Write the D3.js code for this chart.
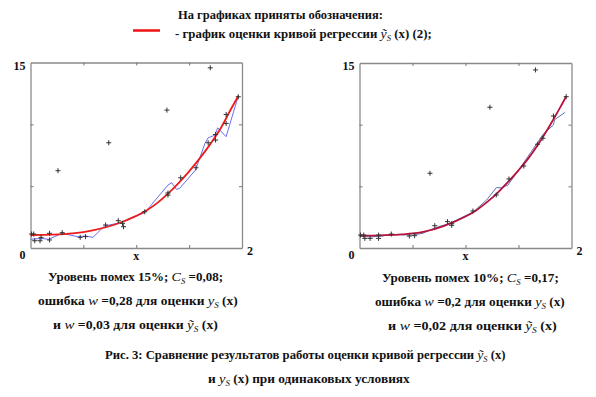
<!DOCTYPE html>
<html>
<head>
<meta charset="utf-8">
<script src="https://cdn.jsdelivr.net/npm/d3@7"></script>
<style>
  body { margin: 0; background: #fff; }
  svg text { font-family: "Liberation Serif", "Times New Roman", serif; fill: #111; }
</style>
</head>
<body>
<div id="chart"></div>
<script>
// ticks
var xTicks = [0.5, 1, 1.5];
var yTicks = [5, 10];

// left panel: noise 15%
var leftPtsX = [0.01, 0.03, 0.04, 0.09, 0.10, 0.18, 0.18, 0.26, 0.30, 0.47, 0.52, 0.71, 0.74, 0.83, 0.87, 0.88, 1.08, 1.29, 1.30, 1.30, 1.42, 1.565, 1.68, 1.70, 1.75, 1.75, 1.85, 1.85, 1.965];
var leftPtsY = [1.13, 1.13, 0.59, 0.59, 0.86, 1.19, 0.65, 6.25, 1.24, 0.86, 0.92, 1.86, 8.51, 2.21, 1.99, 1.72, 2.93, 11.15, 4.28, 4.45, 5.68, 6.49, 8.51, 14.57, 9.18, 8.73, 10.8, 10.07, 12.23];
var leftBlueX = [0, 0.10, 0.17, 0.30, 0.45, 0.52, 0.59, 0.70, 0.85, 1.08, 1.30, 1.335, 1.38, 1.41, 1.56, 1.65, 1.68, 1.745, 1.77, 1.85, 1.965];
var leftBlueY = [0.70, 0.78, 0.70, 1.19, 0.91, 0.97, 0.86, 1.78, 2.05, 2.85, 5.09, 5.28, 4.74, 4.82, 6.3, 8.46, 8.91, 9.13, 9.72, 9.0, 12.3];
var leftRedX = [0, 0.2, 0.4, 0.6, 0.8, 1.0, 1.1, 1.2, 1.3, 1.4, 1.5, 1.6, 1.7, 1.8, 1.9, 1.965];
var leftRedY = [1.05, 1.08, 1.18, 1.45, 1.9, 2.6, 3.05, 3.65, 4.4, 5.25, 6.2, 7.25, 8.4, 9.7, 11.3, 12.3];

// right panel: noise 10%
var rightPtsX = [0.01, 0.04, 0.05, 0.10, 0.18, 0.18, 0.30, 0.47, 0.52, 0.665, 0.71, 0.83, 0.87, 0.87, 1.07, 1.23, 1.29, 1.41, 1.55, 1.66, 1.68, 1.73, 1.83, 1.95];
var rightPtsY = [1.05, 1.05, 0.78, 0.78, 1.05, 0.78, 1.13, 0.97, 1.0, 6.06, 1.81, 2.14, 1.97, 1.84, 3.0, 11.41, 4.3, 5.6, 6.65, 14.44, 8.41, 8.9, 10.7, 12.27];
var rightBlueX = [0, 0.1, 0.2, 0.3, 0.5, 0.6, 0.7, 0.85, 1.07, 1.2, 1.29, 1.34, 1.40, 1.5, 1.62, 1.73, 1.83, 1.84, 1.94];
var rightBlueY = [0.95, 0.9, 0.95, 1.1, 1.05, 1.2, 1.6, 2.0, 2.9, 3.9, 4.89, 4.89, 5.1, 6.3, 7.8, 9.2, 9.98, 10.4, 11.0];
var rightRedX = [0, 0.2, 0.4, 0.6, 0.8, 1.0, 1.1, 1.2, 1.3, 1.4, 1.5, 1.6, 1.7, 1.8, 1.9, 1.95];
var rightRedY = [1.0, 1.03, 1.1, 1.3, 1.8, 2.55, 3.05, 3.7, 4.45, 5.35, 6.3, 7.35, 8.6, 10.0, 11.5, 12.3];

var svg = d3.select("#chart").append("svg")
    .attr("width", 596)
    .attr("height", 397);

function zip(xs, ys) {
    return xs.map(function (v, i) { return [v, ys[i]]; });
}

function panel(opt) {
    var x = d3.scaleLinear().domain([0, 2]).range([opt.left, opt.right]);
    var y = d3.scaleLinear().domain([0, 15]).range([opt.bottom, opt.top]);
    var g = svg.append("g");

    // frame + inward ticks
    var axes = [
        [d3.axisBottom(x), "translate(0," + opt.bottom + ")", xTicks],
        [d3.axisTop(x), "translate(0," + opt.top + ")", xTicks],
        [d3.axisLeft(y), "translate(" + opt.left + ",0)", yTicks],
        [d3.axisRight(y), "translate(" + opt.right + ",0)", yTicks]
    ];
    axes.forEach(function (a) {
        var ax = g.append("g").attr("transform", a[1])
            .call(a[0].tickValues(a[2]).tickSizeInner(-3).tickSizeOuter(0).tickFormat(""));
        ax.select(".domain").attr("stroke", "#8a8a8a").attr("stroke-width", 1.3);
        ax.selectAll(".tick line").attr("stroke", "#777");
    });

    var line = d3.line().x(function (d) { return x(d[0]); }).y(function (d) { return y(d[1]); });

    g.append("path")
        .attr("d", line(zip(opt.blueX, opt.blueY)))
        .attr("fill", "none")
        .attr("stroke", opt.blue)
        .attr("stroke-width", 1);

    g.append("path")
        .attr("d", line.curve(d3.curveMonotoneX)(zip(opt.redX, opt.redY)))
        .attr("fill", "none")
        .attr("stroke", opt.red)
        .attr("stroke-width", 1.8);

    // crosses
    g.selectAll(".pt").data(zip(opt.ptsX, opt.ptsY)).enter().append("path")
        .attr("class", "pt")
        .attr("d", function (d) {
            var cx = x(d[0]), cy = y(d[1]);
            return "M" + (cx - 2.5) + "," + cy + "H" + (cx + 2.5) + "M" + cx + "," + (cy - 2.5) + "V" + (cy + 2.5);
        })
        .attr("stroke", "#333")
        .attr("stroke-width", 1);

    // labels
    g.append("text").attr("x", x(0) - 5).attr("y", y(15) + 7).attr("text-anchor", "end")
        .style("font-weight", "bold").style("font-size", "12px").text("15");
    g.append("text").attr("x", x(0) - 8).attr("y", opt.bottom + 11).attr("text-anchor", "middle")
        .style("font-weight", "bold").style("font-size", "12px").text("0");
    g.append("text").attr("x", x(2) + 8).attr("y", opt.bottom + 7).attr("text-anchor", "middle")
        .style("font-weight", "bold").style("font-size", "12px").text("2");
    g.append("text").attr("x", x(1)).attr("y", opt.bottom + 12).attr("text-anchor", "middle")
        .style("font-weight", "bold").style("font-size", "12px").text("x");
}

panel({ left: 30.5, right: 242, top: 62.5, bottom: 248,
        ptsX: leftPtsX, ptsY: leftPtsY, blueX: leftBlueX, blueY: leftBlueY, redX: leftRedX, redY: leftRedY,
        blue: "#6a6ef0", red: "#ec1c1c" });
panel({ left: 359.5, right: 571.5, top: 63, bottom: 248,
        ptsX: rightPtsX, ptsY: rightPtsY, blueX: rightBlueX, blueY: rightBlueY, redX: rightRedX, redY: rightRedY,
        blue: "#5a74b4", red: "#b8123c" });

// text lines made of runs: [text, kind]  b = bold, i = italic, s = italic subscript
function richText(parts, x0, x1, baseline, size) {
    var t = svg.append("text").attr("y", baseline).style("font-size", size + "px");
    parts.forEach(function (p) {
        var ts = t.append("tspan").text(p[0]);
        if (p[1] === "b") ts.style("font-weight", "bold");
        if (p[1] === "i") ts.style("font-style", "italic").style("font-size", (size + 1) + "px");
        if (p[1] === "s") ts.style("font-style", "italic").style("font-size", (size - 4) + "px").attr("dy", 3);
        if (p[1] === "u") ts.style("font-weight", "bold").attr("dy", -3);
    });
    var w = t.node().getComputedTextLength();
    var s = (x1 - x0) / w;
    t.attr("transform", "translate(" + x0 + ",0) scale(" + s + ",1)");
}

var legendTitle = [["На графиках приняты обозначения:", "b"]];
var legendItem = [["- график оценки кривой регрессии ", "b"], ["ỹ", "i"], ["S", "s"], [" (x)  (2);", "u"]];
var leftLines = [
    [["Уровень помех 15%;  ", "b"], ["C", "i"], ["S", "s"], [" =0,08;", "u"]],
    [["ошибка  ", "b"], ["w", "i"], [" =0,28  для оценки  ", "b"], ["y", "i"], ["S", "s"], [" (x)", "u"]],
    [["и  ", "b"], ["w", "i"], [" =0,03  для оценки  ", "b"], ["ỹ", "i"], ["S", "s"], [" (x)", "u"]]
];
var rightLines = [
    [["Уровень помех 10%;  ", "b"], ["C", "i"], ["S", "s"], [" =0,17;", "u"]],
    [["ошибка  ", "b"], ["w", "i"], [" =0,2  для оценки  ", "b"], ["y", "i"], ["S", "s"], [" (x)", "u"]],
    [["и  ", "b"], ["w", "i"], [" =0,02  для оценки  ", "b"], ["ỹ", "i"], ["S", "s"], [" (x)", "u"]]
];
var caption = [
    [["Рис. 3: Сравнение результатов работы оценки кривой регрессии ", "b"], ["ỹ", "i"], ["S", "s"], [" (x)", "u"]],
    [["и  ", "b"], ["y", "i"], ["S", "s"], [" (x)", "u"], ["  при одинаковых  условиях", "b"]]
];

richText(legendTitle, 178, 383, 19, 12);
richText(legendItem, 175, 432, 38, 12);
svg.append("line").attr("x1", 133).attr("x2", 160).attr("y1", 30.5).attr("y2", 30.5)
    .attr("stroke", "#ee1111").attr("stroke-width", 2.5);

var leftSpan = [[48, 223], [38, 238], [53, 218]];
var rightSpan = [[382, 559], [375, 565], [388, 557]];
var blockBase = [281, 305, 329];
leftLines.forEach(function (l, i) { richText(l, leftSpan[i][0], leftSpan[i][1], blockBase[i], 12); });
rightLines.forEach(function (l, i) { richText(l, rightSpan[i][0], rightSpan[i][1], blockBase[i] + 1, 12); });
richText(caption[0], 105, 506, 359, 12);
richText(caption[1], 208, 410, 383, 12);
</script>
</body>
</html>
